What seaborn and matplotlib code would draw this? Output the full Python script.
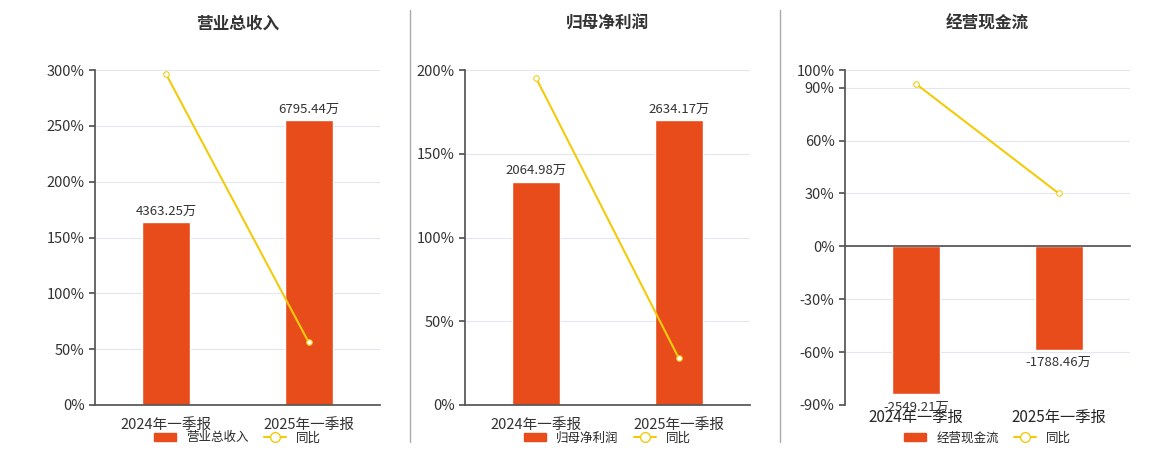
import matplotlib
matplotlib.use("Agg")
import matplotlib.pyplot as plt
import seaborn as sns
import pandas as pd
from matplotlib.lines import Line2D
from matplotlib.patches import Patch

sns.set_theme(style="white")
plt.rcParams['font.family'] = ['Noto Sans CJK SC', 'DejaVu Sans']

periods = ["2024年一季报", "2025年一季报"]
titles = ["营业总收入", "归母净利润", "经营现金流"]
bar_values = [[4363.25, 6795.44], [2064.98, 2634.17], [-2549.21, -1788.46]]
bar_labels = [["4363.25万", "6795.44万"], ["2064.98万", "2634.17万"], ["-2549.21万", "-1788.46万"]]
yoy = [[296, 56], [195, 28], [92, 30]]
yticks = [[0, 50, 100, 150, 200, 250, 300], [0, 50, 100, 150, 200],
          [-90, -60, -30, 0, 30, 60, 90, 100]]
ylims = [(0, 300), (0, 200), (-90, 100)]
bar_tops = [255, 170, -84]  # percent-axis position of the largest bar

RED = "#E84C1B"
YEL = "#F2CC0C"

fig = plt.figure(figsize=(11.6, 4.5), dpi=100)
lefts = [95, 465, 845]
for i in range(3):
    ax = fig.add_axes([lefts[i]/1160, 45/450, 285/1160, 335/450])
    ax2 = ax.twinx()
    lo, hi = ylims[i]
    big = max(bar_values[i], key=abs)
    scale = big / bar_tops[i]
    ax2.set_ylim(lo*scale, hi*scale)
    for t in yticks[i]:
        ax2.axhline(t*scale, color="#E3E6EE", linewidth=0.8, zorder=0)
    df = pd.DataFrame({"p": periods, "v": bar_values[i]})
    sns.barplot(data=df, x="p", y="v", ax=ax2, color=RED, width=0.34, saturation=1, zorder=2)
    for j, v in enumerate(bar_values[i]):
        off = 8 if v > 0 else -9
        ax2.annotate(bar_labels[i][j], (j, v), xytext=(0, off), textcoords="offset points",
                     ha="center", va="center", fontsize=9.5, color="#333333")
    ax2.set_yticks([]); ax2.set_ylabel("")
    for s in ax2.spines.values(): s.set_visible(False)
    dl = pd.DataFrame({"p": periods, "y": yoy[i]})
    sns.lineplot(data=dl, x="p", y="y", ax=ax, color=YEL, marker="o", markersize=4,
                 markerfacecolor="white", markeredgecolor=YEL, linewidth=1.5, zorder=5)
    ax.set_zorder(ax2.get_zorder()+1); ax.patch.set_visible(False)
    ax.set_ylim(lo, hi); ax.set_xlim(-0.5, 1.5)
    ax.set_yticks(yticks[i]); ax.set_yticklabels([f"{t}%" for t in yticks[i]], fontsize=10.5, color="#333333")
    ax.set_xticks([0, 1]); ax.set_xticklabels(periods, fontsize=10.5, color="#333333")
    ax.grid(False)
    ax.set_xlabel(""); ax.set_ylabel("")
    for s in ["top", "right"]: ax.spines[s].set_visible(False)
    ax.spines["left"].set_color("#555555"); ax.spines["bottom"].set_color("#555555")
    if lo < 0:
        ax.spines["bottom"].set_position(("data", 0))
        zero_px = (0 - lo) / (hi - lo) * 335
        ax.tick_params(axis="x", pad=(zero_px + 4) * 0.72, length=0)
    ax.tick_params(axis="y", length=4, left=True, color="#555555")
    ax.set_title(titles[i], fontsize=12, fontweight="bold", color="#333333", pad=30)
    handles = [Patch(color=RED), Line2D([], [], color=YEL, marker="o", markerfacecolor="white", markersize=7)]
    ax.legend(handles, [titles[i], "同比"], loc="upper center", bbox_to_anchor=(0.5, -0.045),
              ncol=2, frameon=False, fontsize=9, handlelength=1.8, columnspacing=1.2)

for x in [410, 780]:
    fig.add_artist(Line2D([x/1160, x/1160], [8/450, 440/450], color="#AAAAAA", linewidth=1))

fig.savefig("out.png", dpi=100)
